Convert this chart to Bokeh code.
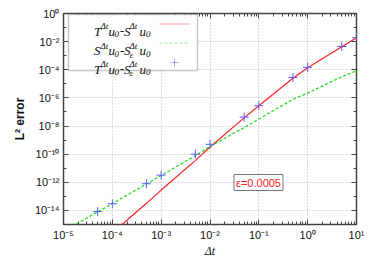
from bokeh.plotting import figure
from bokeh.models import (FixedTicker, LogAxis, CustomJSTickFormatter, Label,
                          BoxAnnotation, PolyAnnotation)
from bokeh.embed import file_html
from bokeh.resources import INLINE

# ---- data ----
red_dt = [1e-4, 5e-4, 1e-3, 5e-3, 1e-2, 5e-2, 1e-1, 5e-1, 1, 5, 10]
red_err = [2.5e-16, 3.2e-14, 2.8e-13, 3.5e-11, 3.2e-10, 3.8e-8, 2.8e-7, 2.5e-5, 1.4e-4, 4.3e-3, 1.9e-2]

green_dt = [1e-5, 5e-5, 1e-4, 5e-4, 1e-3, 5e-3, 1e-2, 5e-2, 1e-1, 5e-1, 1, 5, 10]
green_err = [3.2e-16, 7.9e-15, 3.0e-14, 7.6e-13, 3.0e-12, 7.9e-11, 3.5e-10, 7.9e-9, 3.2e-8, 7.9e-7, 2.2e-6, 3.2e-5, 8.5e-5]

mark_dt = [5e-5, 1e-4, 5e-4, 1e-3, 5e-3, 1e-2, 5e-2, 1e-1, 5e-1, 1, 5, 10]
mark_err = [8.3e-15, 3.0e-14, 7.9e-13, 3.2e-12, 1.0e-10, 5.0e-10, 4.3e-8, 2.8e-7, 2.8e-5, 1.5e-4, 4.5e-3, 1.9e-2]

x_major = [1e-5, 1e-4, 1e-3, 1e-2, 1e-1, 1e0, 1e1]
x_minor = [k * d for d in [1e-5, 1e-4, 1e-3, 1e-2, 1e-1, 1e0] for k in range(2, 10)]
y_major = [1e-14, 1e-12, 1e-10, 1e-8, 1e-6, 1e-4, 1e-2, 1e0]
y_minor = [1e-15, 1e-13, 1e-11, 1e-9, 1e-7, 1e-5, 1e-3, 1e-1]

eps_text = "ε=0.0005"

RED = "#ff2020"
GREEN = "#11dd11"
BLUE = "#5c5cff"
FRAME = "#444444"

p = figure(width=372, height=260, x_axis_type="log", y_axis_type="log",
           x_range=(1e-5, 1e1), y_range=(1e-15, 1e0),
           output_backend="svg", toolbar_location=None,
           min_border_left=63, min_border_right=16, min_border_top=13, min_border_bottom=35)
p.background_fill_color = "white"
p.border_fill_color = "white"
p.outline_line_color = FRAME
p.outline_line_width = 1.5

fmt = CustomJSTickFormatter(code="""
const sup = {'0':'\u2070','1':'\u00b9','2':'\u00b2','3':'\u00b3','4':'\u2074','5':'\u2075',
             '6':'\u2076','7':'\u2077','8':'\u2078','9':'\u2079','-':'\u207b'};
const e = Math.round(Math.log10(tick));
return '10' + String(e).split('').map(c => sup[c]).join('');
""")

xt = FixedTicker(ticks=x_major, minor_ticks=x_minor)
yt = FixedTicker(ticks=y_major, minor_ticks=y_minor)

def style_axis(ax, show_labels=True):
    ax.axis_line_color = None
    ax.major_tick_in = 5
    ax.major_tick_out = 0
    ax.minor_tick_in = 3
    ax.minor_tick_out = 0
    ax.major_tick_line_color = FRAME
    ax.minor_tick_line_color = FRAME
    if show_labels:
        ax.formatter = fmt
        ax.major_label_text_font = "Liberation Sans"
        ax.major_label_text_font_size = "11px"
        ax.major_label_text_color = "#111111"
    else:
        ax.major_label_text_font_size = "1px"
        ax.major_label_text_color = None
        ax.major_label_standoff = 0

p.xaxis.ticker = xt
p.yaxis.ticker = yt
style_axis(p.xaxis[0])
style_axis(p.yaxis[0])
p.xaxis.major_label_standoff = 4
p.xaxis.axis_label = "Δt"
p.xaxis.axis_label_text_font = "Liberation Serif"
p.xaxis.axis_label_text_font_style = "italic"
p.xaxis.axis_label_text_font_size = "12px"
p.xaxis.axis_label_text_color = "#111111"
p.xaxis.axis_label_standoff = 0
p.yaxis.major_label_standoff = 4
p.yaxis.axis_label = "L² error"
p.yaxis.axis_label_text_font = "Liberation Sans"
p.yaxis.axis_label_text_font_style = "bold"
p.yaxis.axis_label_text_font_size = "12px"
p.yaxis.axis_label_text_color = "#111111"
p.yaxis.axis_label_standoff = 5

top_ax = LogAxis(ticker=xt)
style_axis(top_ax, False)
p.add_layout(top_ax, "above")
right_ax = LogAxis(ticker=yt)
style_axis(right_ax, False)
p.add_layout(right_ax, "right")

p.grid.grid_line_color = "#b8b8b8"
p.grid.grid_line_dash = "1 2"
p.grid.grid_line_width = 1

p.line(red_dt, red_err, line_color=RED, line_width=1.2)
p.line(green_dt, green_err, line_color=GREEN, line_width=1.2, line_dash="3 2")
p.scatter(mark_dt, mark_err, marker="cross", size=9, line_color=BLUE, line_width=1)

# epsilon box
p.add_layout(Label(x=195, y=42, x_units="screen", y_units="screen", text=eps_text,
                   text_font="Liberation Sans", text_font_size="11px", text_color=RED,
                   text_align="center", text_baseline="middle",
                   border_line_color="#777777", border_line_width=1,
                   background_fill_color="white", padding=2))

# legend frame
p.add_layout(BoxAnnotation(left=5, right=134, bottom=154, top=210,
                           left_units="screen", right_units="screen",
                           top_units="screen", bottom_units="screen",
                           fill_color="white", fill_alpha=1.0,
                           line_color=FRAME, line_width=1.5, level="annotation"))

# legend samples
p.add_layout(PolyAnnotation(xs=[96, 126], ys=[200.5, 200.5], xs_units="screen", ys_units="screen",
                            line_color=RED, line_width=1.5, fill_alpha=0))
p.add_layout(PolyAnnotation(xs=[96, 126], ys=[181.5, 181.5], xs_units="screen", ys_units="screen",
                            line_color=GREEN, line_width=1.3, line_dash="3 2", fill_alpha=0))
p.add_layout(PolyAnnotation(xs=[107, 115, 111, 111, 111, 111], ys=[162, 162, 162, 166, 158, 162],
                            xs_units="screen", ys_units="screen",
                            line_color=BLUE, line_width=1, fill_alpha=0))

# legend texts (math-like, built from pieces)
xs_pos = {"a": 30.5, "sup1": 37, "u1": 45, "sub1": 51, "op": 56.5, "b": 60.5, "sup2": 66, "u2": 76, "sub2": 82.5}
entries = [("T", False, 193.5), ("S", True, 174), ("T", True, 155.5)]

def lab(x, y, t, size, italic=True):
    p.add_layout(Label(x=x, y=y, x_units="screen", y_units="screen", text=t,
                       text_font="Liberation Serif",
                       text_font_style="italic" if italic else "normal",
                       text_font_size=size, text_color="#111111",
                       text_align="left", text_baseline="alphabetic"))

for first, eps, yb in entries:
    lab(xs_pos["a"], yb, first, "13px")
    lab(xs_pos["sup1"], yb + 5, "Δt", "9px")
    lab(xs_pos["u1"], yb, "u", "13px")
    lab(xs_pos["sub1"], yb - 3, "0", "9px")
    lab(xs_pos["op"], yb, "-", "13px", italic=False)
    lab(xs_pos["b"], yb, "S", "13px")
    lab(xs_pos["sup2"], yb + 5, "Δt", "9px")
    if eps:
        lab(xs_pos["sup2"], yb - 4, "ε", "9px")
    lab(xs_pos["u2"], yb, "u", "13px")
    lab(xs_pos["sub2"], yb - 3, "0", "9px")

open("out.html", "w").write(file_html(p, INLINE))
